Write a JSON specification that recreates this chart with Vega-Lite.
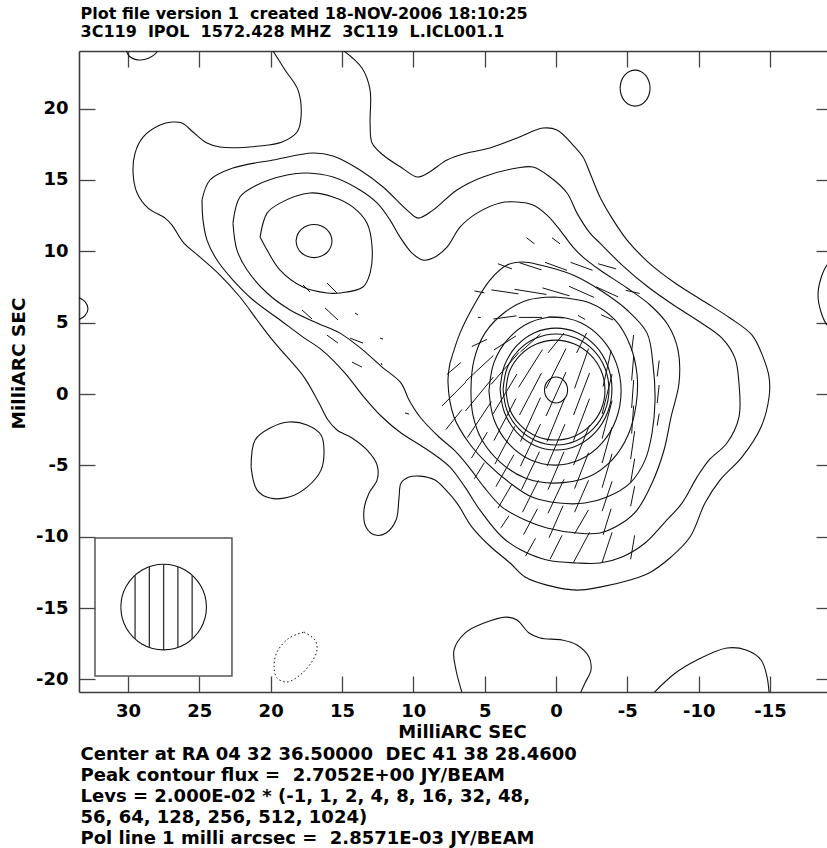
{
"$schema": "https://vega.github.io/schema/vega-lite/v6.json",
"width": 748, "height": 641,
"autosize": {"type": "none"},
"padding": {"left": 79, "top": 51, "right": 0, "bottom": 156},
"background": "white",
"config": {"view": {"stroke": null}, "font": "DejaVu Sans"},
"datasets": {
"contours": [
{"c":"A","i":0,"x":20.0,"y":24.3},{"c":"A","i":1,"x":18.99,"y":22.71},{"c":"A","i":2,"x":18.08,"y":21.30},{"c":"A","i":3,"x":17.87,"y":19.41},{"c":"A","i":4,"x":18.15,"y":18.36},{"c":"A","i":5,"x":19.20,"y":17.66},{"c":"A","i":6,"x":20.74,"y":17.38},{"c":"A","i":7,"x":23.55,"y":17.31},{"c":"A","i":8,"x":24.46,"y":17.59},{"c":"A","i":9,"x":25.44,"y":18.36},{"c":"A","i":10,"x":26.21,"y":18.99},{"c":"A","i":11,"x":26.91,"y":19.06},{"c":"A","i":12,"x":27.75,"y":18.85},{"c":"A","i":13,"x":28.94,"y":18.01},{"c":"A","i":14,"x":29.50,"y":16.89},{"c":"A","i":15,"x":29.64,"y":15.49},{"c":"A","i":16,"x":29.36,"y":14.09},{"c":"A","i":17,"x":28.59,"y":13.03},{"c":"A","i":18,"x":27.40,"y":12.33},{"c":"A","i":19,"x":26.91,"y":11.84},{"c":"A","i":20,"x":26.14,"y":10.65},{"c":"A","i":21,"x":24.95,"y":9.60},{"c":"A","i":22,"x":23.55,"y":8.34},{"c":"A","i":23,"x":22.15,"y":6.80},{"c":"A","i":24,"x":20.95,"y":5.19},{"c":"A","i":25,"x":20.04,"y":3.99},{"c":"A","i":26,"x":19.27,"y":3.08},{"c":"A","i":27,"x":17.66,"y":1.19},{"c":"A","i":28,"x":16.61,"y":-0.63},{"c":"A","i":29,"x":15.98,"y":-1.82},{"c":"A","i":30,"x":15.35,"y":-2.52},{"c":"A","i":31,"x":14.30,"y":-3.08},{"c":"A","i":32,"x":13.25,"y":-3.92},{"c":"A","i":33,"x":12.54,"y":-4.98},{"c":"A","i":34,"x":12.54,"y":-6.03},{"c":"A","i":35,"x":13.10,"y":-6.94},{"c":"A","i":36,"x":13.46,"y":-8.13},{"c":"A","i":37,"x":13.32,"y":-9.32},{"c":"A","i":38,"x":12.68,"y":-9.88},{"c":"A","i":39,"x":11.91,"y":-9.74},{"c":"A","i":40,"x":11.21,"y":-8.83},{"c":"A","i":41,"x":11.00,"y":-7.22},{"c":"A","i":42,"x":10.86,"y":-6.24},{"c":"A","i":43,"x":10.30,"y":-5.82},{"c":"A","i":44,"x":9.53,"y":-5.75},{"c":"A","i":45,"x":8.48,"y":-6.03},{"c":"A","i":46,"x":7.71,"y":-6.73},{"c":"A","i":47,"x":6.94,"y":-7.64},{"c":"A","i":48,"x":5.89,"y":-9.32},{"c":"A","i":49,"x":4.56,"y":-10.72},{"c":"A","i":50,"x":3.22,"y":-11.84},{"c":"A","i":51,"x":2.17,"y":-12.82},{"c":"A","i":52,"x":0.63,"y":-13.39},{"c":"A","i":53,"x":-1.47,"y":-13.74},{"c":"A","i":54,"x":-3.08,"y":-13.53},{"c":"A","i":55,"x":-5.19,"y":-13.03},{"c":"A","i":56,"x":-6.52,"y":-12.54},{"c":"A","i":57,"x":-8.06,"y":-11.42},{"c":"A","i":58,"x":-9.39,"y":-10.02},{"c":"A","i":59,"x":-10.44,"y":-7.64},{"c":"A","i":60,"x":-11.49,"y":-6.03},{"c":"A","i":61,"x":-13.03,"y":-4.42},{"c":"A","i":62,"x":-14.37,"y":-2.31},{"c":"A","i":63,"x":-14.93,"y":-0.21},{"c":"A","i":64,"x":-14.93,"y":1.19},{"c":"A","i":65,"x":-14.51,"y":2.59},{"c":"A","i":66,"x":-13.74,"y":4.13},{"c":"A","i":67,"x":-12.19,"y":5.33},{"c":"A","i":68,"x":-10.44,"y":6.45},{"c":"A","i":69,"x":-8.34,"y":7.78},{"c":"A","i":70,"x":-6.45,"y":9.25},{"c":"A","i":71,"x":-4.98,"y":10.79},{"c":"A","i":72,"x":-3.92,"y":12.33},{"c":"A","i":73,"x":-3.08,"y":13.81},{"c":"A","i":74,"x":-2.38,"y":15.49},{"c":"A","i":75,"x":-1.89,"y":16.61},{"c":"A","i":76,"x":-1.19,"y":17.45},{"c":"A","i":77,"x":-0.07,"y":18.50},{"c":"A","i":78,"x":0.91,"y":18.64},{"c":"A","i":79,"x":2.73,"y":17.94},{"c":"A","i":80,"x":4.63,"y":17.24},{"c":"A","i":81,"x":6.24,"y":16.89},{"c":"A","i":82,"x":7.64,"y":16.40},{"c":"A","i":83,"x":8.97,"y":15.49},{"c":"A","i":84,"x":9.74,"y":15.21},{"c":"A","i":85,"x":10.79,"y":15.84},{"c":"A","i":86,"x":12.12,"y":16.75},{"c":"A","i":87,"x":12.89,"y":17.59},{"c":"A","i":88,"x":13.03,"y":18.99},{"c":"A","i":89,"x":13.03,"y":21.30},{"c":"A","i":90,"x":13.60,"y":22.85},{"c":"A","i":91,"x":15.2,"y":24.3},
{"c":"B","i":0,"x":24.81,"y":13.60},{"c":"B","i":1,"x":24.25,"y":15.00},{"c":"B","i":2,"x":22.64,"y":15.84},{"c":"B","i":3,"x":19.83,"y":16.40},{"c":"B","i":4,"x":17.03,"y":16.89},{"c":"B","i":5,"x":15.63,"y":16.68},{"c":"B","i":6,"x":13.74,"y":15.70},{"c":"B","i":7,"x":12.12,"y":14.51},{"c":"B","i":8,"x":10.44,"y":12.89},{"c":"B","i":9,"x":9.67,"y":12.33},{"c":"B","i":10,"x":8.62,"y":12.89},{"c":"B","i":11,"x":6.94,"y":14.30},{"c":"B","i":12,"x":5.12,"y":15.21},{"c":"B","i":13,"x":2.73,"y":15.84},{"c":"B","i":14,"x":1.61,"y":15.91},{"c":"B","i":15,"x":0.42,"y":15.21},{"c":"B","i":16,"x":-0.77,"y":14.09},{"c":"B","i":17,"x":-1.47,"y":12.68},{"c":"B","i":18,"x":-2.38,"y":11.28},{"c":"B","i":19,"x":-3.08,"y":10.58},{"c":"B","i":20,"x":-4.63,"y":9.04},{"c":"B","i":21,"x":-6.45,"y":7.50},{"c":"B","i":22,"x":-8.34,"y":6.17},{"c":"B","i":23,"x":-10.09,"y":5.05},{"c":"B","i":24,"x":-11.63,"y":3.92},{"c":"B","i":25,"x":-12.54,"y":2.52},{"c":"B","i":26,"x":-12.82,"y":0.77},{"c":"B","i":27,"x":-12.82,"y":-1.61},{"c":"B","i":28,"x":-11.98,"y":-3.43},{"c":"B","i":29,"x":-10.72,"y":-4.63},{"c":"B","i":30,"x":-9.88,"y":-5.82},{"c":"B","i":31,"x":-8.83,"y":-7.64},{"c":"B","i":32,"x":-7.57,"y":-9.04},{"c":"B","i":33,"x":-6.24,"y":-10.44},{"c":"B","i":34,"x":-4.63,"y":-11.42},{"c":"B","i":35,"x":-3.08,"y":-11.84},{"c":"B","i":36,"x":-1.47,"y":-11.84},{"c":"B","i":37,"x":0.63,"y":-11.63},{"c":"B","i":38,"x":2.45,"y":-10.93},{"c":"B","i":39,"x":3.78,"y":-10.02},{"c":"B","i":40,"x":5.33,"y":-8.13},{"c":"B","i":41,"x":6.38,"y":-6.52},{"c":"B","i":42,"x":7.43,"y":-5.12},{"c":"B","i":43,"x":8.48,"y":-4.27},{"c":"B","i":44,"x":9.53,"y":-3.57},{"c":"B","i":45,"x":10.86,"y":-2.73},{"c":"B","i":46,"x":12.19,"y":-1.61},{"c":"B","i":47,"x":13.46,"y":-0.21},{"c":"B","i":48,"x":14.79,"y":1.47},{"c":"B","i":49,"x":16.40,"y":3.08},{"c":"B","i":50,"x":17.73,"y":3.99},{"c":"B","i":51,"x":19.34,"y":5.19},{"c":"B","i":52,"x":21.23,"y":6.59},{"c":"B","i":53,"x":22.64,"y":7.99},{"c":"B","i":54,"x":23.76,"y":9.39},{"c":"B","i":55,"x":24.46,"y":10.79},{"c":"B","i":56,"x":24.74,"y":12.19},{"c":"B","i":57,"x":24.81,"y":13.60},
{"c":"C","i":0,"x":22.64,"y":11.98},{"c":"C","i":1,"x":22.15,"y":13.81},{"c":"C","i":2,"x":20.95,"y":14.65},{"c":"C","i":3,"x":18.85,"y":15.35},{"c":"C","i":4,"x":17.45,"y":15.49},{"c":"C","i":5,"x":15.63,"y":15.21},{"c":"C","i":6,"x":13.74,"y":14.30},{"c":"C","i":7,"x":12.54,"y":13.39},{"c":"C","i":8,"x":11.63,"y":12.19},{"c":"C","i":9,"x":10.93,"y":11.00},{"c":"C","i":10,"x":10.09,"y":9.88},{"c":"C","i":11,"x":9.32,"y":9.39},{"c":"C","i":12,"x":8.62,"y":9.53},{"c":"C","i":13,"x":7.64,"y":10.30},{"c":"C","i":14,"x":6.73,"y":11.70},{"c":"C","i":15,"x":5.54,"y":12.68},{"c":"C","i":16,"x":3.92,"y":13.39},{"c":"C","i":17,"x":2.73,"y":13.46},{"c":"C","i":18,"x":1.61,"y":13.25},{"c":"C","i":19,"x":0.63,"y":12.54},{"c":"C","i":20,"x":-0.28,"y":11.49},{"c":"C","i":21,"x":-1.19,"y":10.30},{"c":"C","i":22,"x":-1.89,"y":9.60},{"c":"C","i":23,"x":-3.08,"y":8.69},{"c":"C","i":24,"x":-4.98,"y":7.43},{"c":"C","i":25,"x":-6.59,"y":6.24},{"c":"C","i":26,"x":-7.85,"y":4.84},{"c":"C","i":27,"x":-8.55,"y":3.08},{"c":"C","i":28,"x":-8.62,"y":0.77},{"c":"C","i":29,"x":-8.06,"y":-1.61},{"c":"C","i":30,"x":-7.57,"y":-3.92},{"c":"C","i":31,"x":-6.73,"y":-6.24},{"c":"C","i":32,"x":-5.68,"y":-8.13},{"c":"C","i":33,"x":-4.63,"y":-9.04},{"c":"C","i":34,"x":-3.08,"y":-9.74},{"c":"C","i":35,"x":-1.47,"y":-9.74},{"c":"C","i":36,"x":0.63,"y":-9.39},{"c":"C","i":37,"x":2.17,"y":-8.83},{"c":"C","i":38,"x":3.78,"y":-7.92},{"c":"C","i":39,"x":5.05,"y":-6.52},{"c":"C","i":40,"x":6.10,"y":-5.12},{"c":"C","i":41,"x":7.15,"y":-3.92},{"c":"C","i":42,"x":8.20,"y":-3.01},{"c":"C","i":43,"x":9.53,"y":-1.61},{"c":"C","i":44,"x":10.30,"y":-0.42},{"c":"C","i":45,"x":10.86,"y":0.77},{"c":"C","i":46,"x":12.19,"y":1.89},{"c":"C","i":47,"x":13.53,"y":3.08},{"c":"C","i":48,"x":15.14,"y":4.27},{"c":"C","i":49,"x":16.75,"y":4.98},{"c":"C","i":50,"x":18.64,"y":5.89},{"c":"C","i":51,"x":20.25,"y":7.08},{"c":"C","i":52,"x":21.65,"y":8.69},{"c":"C","i":53,"x":22.36,"y":10.09},{"c":"C","i":54,"x":22.64,"y":11.98},
{"c":"L8","i":0,"x":7.43,"y":2.17},{"c":"L8","i":1,"x":7.57,"y":0.77},{"c":"L8","i":2,"x":7.15,"y":-1.61},{"c":"L8","i":3,"x":6.10,"y":-3.43},{"c":"L8","i":4,"x":4.84,"y":-4.84},{"c":"L8","i":5,"x":3.22,"y":-6.24},{"c":"L8","i":6,"x":1.68,"y":-7.22},{"c":"L8","i":7,"x":-0.21,"y":-7.64},{"c":"L8","i":8,"x":-2.03,"y":-7.64},{"c":"L8","i":9,"x":-3.57,"y":-7.22},{"c":"L8","i":10,"x":-5.19,"y":-6.24},{"c":"L8","i":11,"x":-6.24,"y":-4.63},{"c":"L8","i":12,"x":-6.73,"y":-2.73},{"c":"L8","i":13,"x":-6.94,"y":-0.42},{"c":"L8","i":14,"x":-6.80,"y":2.03},{"c":"L8","i":15,"x":-6.38,"y":4.27},{"c":"L8","i":16,"x":-4.98,"y":5.89},{"c":"L8","i":17,"x":-3.08,"y":7.29},{"c":"L8","i":18,"x":-1.19,"y":8.34},{"c":"L8","i":19,"x":1.12,"y":9.04},{"c":"L8","i":20,"x":2.38,"y":9.25},{"c":"L8","i":21,"x":3.43,"y":9.04},{"c":"L8","i":22,"x":4.63,"y":7.99},{"c":"L8","i":23,"x":5.82,"y":6.10},{"c":"L8","i":24,"x":6.73,"y":4.27},{"c":"L8","i":25,"x":7.43,"y":2.17},
{"c":"L16","i":0,"x":0.14,"y":6.80},{"c":"L16","i":1,"x":-2.38,"y":6.38},{"c":"L16","i":2,"x":-4.13,"y":5.19},{"c":"L16","i":3,"x":-5.19,"y":3.42},{"c":"L16","i":4,"x":-5.68,"y":1.33},{"c":"L16","i":5,"x":-5.61,"y":-0.77},{"c":"L16","i":6,"x":-5.05,"y":-2.87},{"c":"L16","i":7,"x":-3.92,"y":-4.63},{"c":"L16","i":8,"x":-2.24,"y":-5.82},{"c":"L16","i":9,"x":0.14,"y":-6.24},{"c":"L16","i":10,"x":2.17,"y":-5.89},{"c":"L16","i":11,"x":3.92,"y":-4.77},{"c":"L16","i":12,"x":5.19,"y":-3.22},{"c":"L16","i":13,"x":5.82,"y":-1.47},{"c":"L16","i":14,"x":5.96,"y":0.28},{"c":"L16","i":15,"x":5.75,"y":2.38},{"c":"L16","i":16,"x":4.98,"y":4.27},{"c":"L16","i":17,"x":3.57,"y":5.75},{"c":"L16","i":18,"x":1.96,"y":6.59},{"c":"L16","i":19,"x":0.14,"y":6.80},
{"c":"L32","i":0,"x":4.70,"y":0.21},{"c":"L32","i":1,"x":4.35,"y":2.20},{"c":"L32","i":2,"x":3.34,"y":3.88},{"c":"L32","i":3,"x":1.84,"y":5.01},{"c":"L32","i":4,"x":0.07,"y":5.40},{"c":"L32","i":5,"x":-1.70,"y":5.01},{"c":"L32","i":6,"x":-3.20,"y":3.88},{"c":"L32","i":7,"x":-4.21,"y":2.20},{"c":"L32","i":8,"x":-4.56,"y":0.21},{"c":"L32","i":9,"x":-4.21,"y":-1.78},{"c":"L32","i":10,"x":-3.20,"y":-3.46},{"c":"L32","i":11,"x":-1.70,"y":-4.59},{"c":"L32","i":12,"x":0.07,"y":-4.98},{"c":"L32","i":13,"x":1.84,"y":-4.59},{"c":"L32","i":14,"x":3.34,"y":-3.46},{"c":"L32","i":15,"x":4.35,"y":-1.78},{"c":"L32","i":16,"x":4.70,"y":0.21},
{"c":"L48","i":0,"x":3.92,"y":0.35},{"c":"L48","i":1,"x":3.62,"y":1.98},{"c":"L48","i":2,"x":2.77,"y":3.37},{"c":"L48","i":3,"x":1.50,"y":4.30},{"c":"L48","i":4,"x":0,"y":4.62},{"c":"L48","i":5,"x":-1.50,"y":4.30},{"c":"L48","i":6,"x":-2.77,"y":3.37},{"c":"L48","i":7,"x":-3.62,"y":1.98},{"c":"L48","i":8,"x":-3.92,"y":0.35},{"c":"L48","i":9,"x":-3.62,"y":-1.28},{"c":"L48","i":10,"x":-2.77,"y":-2.67},{"c":"L48","i":11,"x":-1.50,"y":-3.60},{"c":"L48","i":12,"x":0,"y":-3.92},{"c":"L48","i":13,"x":1.50,"y":-3.60},{"c":"L48","i":14,"x":2.77,"y":-2.67},{"c":"L48","i":15,"x":3.62,"y":-1.28},{"c":"L48","i":16,"x":3.92,"y":0.35},
{"c":"L56","i":0,"x":3.71,"y":0.32},{"c":"L56","i":1,"x":3.43,"y":1.81},{"c":"L56","i":2,"x":2.62,"y":3.07},{"c":"L56","i":3,"x":1.42,"y":3.91},{"c":"L56","i":4,"x":0,"y":4.21},{"c":"L56","i":5,"x":-1.42,"y":3.91},{"c":"L56","i":6,"x":-2.62,"y":3.07},{"c":"L56","i":7,"x":-3.43,"y":1.81},{"c":"L56","i":8,"x":-3.71,"y":0.32},{"c":"L56","i":9,"x":-3.43,"y":-1.17},{"c":"L56","i":10,"x":-2.62,"y":-2.43},{"c":"L56","i":11,"x":-1.42,"y":-3.27},{"c":"L56","i":12,"x":0,"y":-3.57},{"c":"L56","i":13,"x":1.42,"y":-3.27},{"c":"L56","i":14,"x":2.62,"y":-2.43},{"c":"L56","i":15,"x":3.43,"y":-1.17},{"c":"L56","i":16,"x":3.71,"y":0.32},
{"c":"L64","i":0,"x":3.51,"y":0.28},{"c":"L64","i":1,"x":3.25,"y":1.62},{"c":"L64","i":2,"x":2.49,"y":2.75},{"c":"L64","i":3,"x":1.37,"y":3.51},{"c":"L64","i":4,"x":0.04,"y":3.78},{"c":"L64","i":5,"x":-1.29,"y":3.51},{"c":"L64","i":6,"x":-2.41,"y":2.75},{"c":"L64","i":7,"x":-3.17,"y":1.62},{"c":"L64","i":8,"x":-3.43,"y":0.28},{"c":"L64","i":9,"x":-3.17,"y":-1.06},{"c":"L64","i":10,"x":-2.41,"y":-2.19},{"c":"L64","i":11,"x":-1.29,"y":-2.95},{"c":"L64","i":12,"x":0.04,"y":-3.22},{"c":"L64","i":13,"x":1.37,"y":-2.95},{"c":"L64","i":14,"x":2.49,"y":-2.19},{"c":"L64","i":15,"x":3.25,"y":-1.06},{"c":"L64","i":16,"x":3.51,"y":0.28},
{"c":"L128","i":0,"x":0.81,"y":0.28},{"c":"L128","i":1,"x":0.75,"y":0.63},{"c":"L128","i":2,"x":0.57,"y":0.92},{"c":"L128","i":3,"x":0.31,"y":1.12},{"c":"L128","i":4,"x":0,"y":1.19},{"c":"L128","i":5,"x":-0.31,"y":1.12},{"c":"L128","i":6,"x":-0.57,"y":0.92},{"c":"L128","i":7,"x":-0.75,"y":0.63},{"c":"L128","i":8,"x":-0.81,"y":0.28},{"c":"L128","i":9,"x":-0.75,"y":-0.07},{"c":"L128","i":10,"x":-0.57,"y":-0.36},{"c":"L128","i":11,"x":-0.31,"y":-0.56},{"c":"L128","i":12,"x":0,"y":-0.63},{"c":"L128","i":13,"x":0.31,"y":-0.56},{"c":"L128","i":14,"x":0.57,"y":-0.36},{"c":"L128","i":15,"x":0.75,"y":-0.07},{"c":"L128","i":16,"x":0.81,"y":0.28},
{"c":"D","i":0,"x":20.74,"y":11.00},{"c":"D","i":1,"x":20.25,"y":12.68},{"c":"D","i":2,"x":19.34,"y":13.38},{"c":"D","i":3,"x":17.24,"y":14.09},{"c":"D","i":4,"x":15.63,"y":13.81},{"c":"D","i":5,"x":14.23,"y":13.10},{"c":"D","i":6,"x":13.25,"y":11.98},{"c":"D","i":7,"x":12.89,"y":10.30},{"c":"D","i":8,"x":13.03,"y":8.48},{"c":"D","i":9,"x":13.53,"y":7.50},{"c":"D","i":10,"x":15.14,"y":7.08},{"c":"D","i":11,"x":16.05,"y":7.08},{"c":"D","i":12,"x":17.73,"y":7.50},{"c":"D","i":13,"x":19.34,"y":8.69},{"c":"D","i":14,"x":20.25,"y":10.09},{"c":"D","i":15,"x":20.74,"y":11.00},
{"c":"E","i":0,"x":18.22,"y":10.72},{"c":"E","i":1,"x":18.12,"y":11.16},{"c":"E","i":2,"x":17.85,"y":11.54},{"c":"E","i":3,"x":17.44,"y":11.79},{"c":"E","i":4,"x":16.96,"y":11.88},{"c":"E","i":5,"x":16.48,"y":11.79},{"c":"E","i":6,"x":16.07,"y":11.54},{"c":"E","i":7,"x":15.80,"y":11.16},{"c":"E","i":8,"x":15.70,"y":10.72},{"c":"E","i":9,"x":15.80,"y":10.28},{"c":"E","i":10,"x":16.07,"y":9.90},{"c":"E","i":11,"x":16.48,"y":9.65},{"c":"E","i":12,"x":16.96,"y":9.56},{"c":"E","i":13,"x":17.44,"y":9.65},{"c":"E","i":14,"x":17.85,"y":9.90},{"c":"E","i":15,"x":18.12,"y":10.28},{"c":"E","i":16,"x":18.22,"y":10.72},
{"c":"TR","i":0,"x":-4.49,"y":21.44},{"c":"TR","i":1,"x":-4.57,"y":21.92},{"c":"TR","i":2,"x":-4.80,"y":22.33},{"c":"TR","i":3,"x":-5.14,"y":22.60},{"c":"TR","i":4,"x":-5.54,"y":22.70},{"c":"TR","i":5,"x":-5.94,"y":22.60},{"c":"TR","i":6,"x":-6.28,"y":22.33},{"c":"TR","i":7,"x":-6.51,"y":21.92},{"c":"TR","i":8,"x":-6.59,"y":21.44},{"c":"TR","i":9,"x":-6.51,"y":20.96},{"c":"TR","i":10,"x":-6.28,"y":20.55},{"c":"TR","i":11,"x":-5.94,"y":20.28},{"c":"TR","i":12,"x":-5.54,"y":20.18},{"c":"TR","i":13,"x":-5.14,"y":20.28},{"c":"TR","i":14,"x":-4.80,"y":20.55},{"c":"TR","i":15,"x":-4.57,"y":20.96},{"c":"TR","i":16,"x":-4.49,"y":21.44},
{"c":"R","i":0,"x":-19.3,"y":9.3},{"c":"R","i":1,"x":-18.99,"y":9.04},{"c":"R","i":2,"x":-18.57,"y":8.13},{"c":"R","i":3,"x":-18.36,"y":6.94},{"c":"R","i":4,"x":-18.57,"y":5.75},{"c":"R","i":5,"x":-18.99,"y":4.84},{"c":"R","i":6,"x":-19.3,"y":4.6},
{"c":"Lf","i":0,"x":33.7,"y":6.9},{"c":"Lf","i":1,"x":33.43,"y":6.75},{"c":"Lf","i":2,"x":33.01,"y":6.47},{"c":"Lf","i":3,"x":32.80,"y":5.98},{"c":"Lf","i":4,"x":33.01,"y":5.49},{"c":"Lf","i":5,"x":33.43,"y":5.21},{"c":"Lf","i":6,"x":33.7,"y":5.1},
{"c":"T","i":0,"x":30.2,"y":24.4},{"c":"T","i":1,"x":29.92,"y":23.69},{"c":"T","i":2,"x":29.22,"y":23.41},{"c":"T","i":3,"x":28.52,"y":23.55},{"c":"T","i":4,"x":28.03,"y":23.90},{"c":"T","i":5,"x":27.85,"y":24.4},
{"c":"BL","i":0,"x":21.37,"y":-5.12},{"c":"BL","i":1,"x":21.09,"y":-3.22},{"c":"BL","i":2,"x":20.04,"y":-2.38},{"c":"BL","i":3,"x":18.71,"y":-1.96},{"c":"BL","i":4,"x":17.45,"y":-2.17},{"c":"BL","i":5,"x":16.47,"y":-2.87},{"c":"BL","i":6,"x":16.26,"y":-3.92},{"c":"BL","i":7,"x":16.47,"y":-5.33},{"c":"BL","i":8,"x":17.45,"y":-6.52},{"c":"BL","i":9,"x":18.71,"y":-7.22},{"c":"BL","i":10,"x":20.04,"y":-7.29},{"c":"BL","i":11,"x":20.95,"y":-6.73},{"c":"BL","i":12,"x":21.37,"y":-5.12},
{"c":"BC","i":0,"x":6.5,"y":-21.2},{"c":"BC","i":1,"x":7.01,"y":-19.34},{"c":"BC","i":2,"x":7.15,"y":-17.94},{"c":"BC","i":3,"x":6.38,"y":-16.75},{"c":"BC","i":4,"x":5.05,"y":-16.05},{"c":"BC","i":5,"x":3.50,"y":-15.63},{"c":"BC","i":6,"x":2.73,"y":-15.84},{"c":"BC","i":7,"x":1.89,"y":-16.75},{"c":"BC","i":8,"x":1.12,"y":-17.10},{"c":"BC","i":9,"x":-0.42,"y":-17.24},{"c":"BC","i":10,"x":-1.47,"y":-17.59},{"c":"BC","i":11,"x":-2.31,"y":-18.43},{"c":"BC","i":12,"x":-2.45,"y":-19.34},{"c":"BC","i":13,"x":-2.03,"y":-20.25},{"c":"BC","i":14,"x":-1.6,"y":-21.2},
{"c":"BR","i":0,"x":-6.6,"y":-21.2},{"c":"BR","i":1,"x":-8.3,"y":-19.6},{"c":"BR","i":2,"x":-9.88,"y":-18.64},{"c":"BR","i":3,"x":-11.98,"y":-17.80},{"c":"BR","i":4,"x":-13.32,"y":-17.94},{"c":"BR","i":5,"x":-14.37,"y":-18.64},{"c":"BR","i":6,"x":-14.79,"y":-19.83},{"c":"BR","i":7,"x":-14.95,"y":-21.2},
{"c":"beam","i":0,"x":30.5,"y":-14.93},{"c":"beam","i":1,"x":30.40,"y":-14.15},{"c":"beam","i":2,"x":30.10,"y":-13.43},{"c":"beam","i":3,"x":29.62,"y":-12.81},{"c":"beam","i":4,"x":29.0,"y":-12.33},{"c":"beam","i":5,"x":28.28,"y":-12.03},{"c":"beam","i":6,"x":27.5,"y":-11.93},{"c":"beam","i":7,"x":26.72,"y":-12.03},{"c":"beam","i":8,"x":26.0,"y":-12.33},{"c":"beam","i":9,"x":25.38,"y":-12.81},{"c":"beam","i":10,"x":24.90,"y":-13.43},{"c":"beam","i":11,"x":24.60,"y":-14.15},{"c":"beam","i":12,"x":24.5,"y":-14.93},{"c":"beam","i":13,"x":24.60,"y":-15.71},{"c":"beam","i":14,"x":24.90,"y":-16.43},{"c":"beam","i":15,"x":25.38,"y":-17.05},{"c":"beam","i":16,"x":26.0,"y":-17.53},{"c":"beam","i":17,"x":26.72,"y":-17.83},{"c":"beam","i":18,"x":27.5,"y":-17.93},{"c":"beam","i":19,"x":28.28,"y":-17.83},{"c":"beam","i":20,"x":29.0,"y":-17.53},{"c":"beam","i":21,"x":29.62,"y":-17.05},{"c":"beam","i":22,"x":30.10,"y":-16.43},{"c":"beam","i":23,"x":30.40,"y":-15.71},{"c":"beam","i":24,"x":30.5,"y":-14.93}
],
"neg": [
{"c":"N","i":0,"x":17.66,"y":-16.68},{"c":"N","i":1,"x":16.89,"y":-17.24},{"c":"N","i":2,"x":16.75,"y":-17.94},{"c":"N","i":3,"x":17.17,"y":-18.85},{"c":"N","i":4,"x":17.94,"y":-19.69},{"c":"N","i":5,"x":18.85,"y":-20.18},{"c":"N","i":6,"x":19.55,"y":-19.90},{"c":"N","i":7,"x":19.76,"y":-19.13},{"c":"N","i":8,"x":19.55,"y":-18.08},{"c":"N","i":9,"x":18.71,"y":-17.10},{"c":"N","i":10,"x":17.66,"y":-16.68}
],
"vectors": [
{"x":2.07,"y":10.95,"x2":1.51,"y2":10.53},{"x":0.28,"y":10.95,"x2":-0.28,"y2":10.53},
{"x":4.07,"y":9.13,"x2":3.09,"y2":8.77},{"x":2.56,"y":9.20,"x2":1.02,"y2":8.70},{"x":0.77,"y":9.23,"x2":-0.77,"y2":8.67},{"x":-1.02,"y":9.23,"x2":-2.56,"y2":8.67},{"x":-2.95,"y":9.13,"x2":-4.21,"y2":8.77},
{"x":5.72,"y":7.23,"x2":5.02,"y2":7.09},{"x":4.53,"y":7.30,"x2":2.63,"y2":7.02},{"x":2.91,"y":7.34,"x2":0.67,"y2":6.98},{"x":0.95,"y":7.44,"x2":-0.95,"y2":6.88},{"x":-0.91,"y":7.55,"x2":-2.67,"y2":6.77},{"x":-2.81,"y":7.51,"x2":-4.35,"y2":6.81},{"x":-4.88,"y":7.27,"x2":-5.86,"y2":7.05},
{"x":5.47,"y":5.37,"x2":5.27,"y2":5.37},{"x":2.77,"y":5.48,"x2":4.39,"y2":5.26},{"x":0.98,"y":5.37,"x2":2.60,"y2":5.37},{"x":0.53,"y":5.41,"x2":-0.53,"y2":5.33},{"x":-1.54,"y":5.51,"x2":-2.04,"y2":5.23},{"x":-3.16,"y":5.55,"x2":-4.00,"y2":5.19},
{"x":4.84,"y":3.83,"x2":5.90,"y2":3.33},{"x":2.81,"y":4.07,"x2":4.35,"y2":3.09},{"x":1.09,"y":4.21,"x2":2.49,"y2":2.95},{"x":-0.56,"y":4.28,"x2":0.56,"y2":2.88},{"x":-2.14,"y":4.28,"x2":-1.44,"y2":2.88},{"x":-5.44,"y":4.14,"x2":-5.30,"y2":3.02},
{"x":6.67,"y":2.21,"x2":7.65,"y2":1.37},{"x":4.39,"y":2.70,"x2":6.35,"y2":0.88},{"x":2.60,"y":2.91,"x2":4.56,"y2":0.67},{"x":0.95,"y":3.12,"x2":2.63,"y2":0.46},{"x":-0.70,"y":3.19,"x2":0.70,"y2":0.39},{"x":-2.28,"y":3.19,"x2":-1.30,"y2":0.39},{"x":-3.86,"y":3.05,"x2":-3.30,"y2":0.53},{"x":-5.44,"y":2.63,"x2":-5.30,"y2":0.95},{"x":-7.23,"y":2.35,"x2":-7.09,"y2":1.23},
{"x":6.32,"y":0.84,"x2":8.00,"y2":-0.84},{"x":4.39,"y":1.19,"x2":6.35,"y2":-1.19},{"x":2.74,"y":1.40,"x2":4.42,"y2":-1.40},{"x":1.02,"y":1.47,"x2":2.56,"y2":-1.47},{"x":-0.70,"y":1.54,"x2":0.70,"y2":-1.54},{"x":-2.35,"y":1.47,"x2":-1.23,"y2":-1.47},{"x":-3.93,"y":1.40,"x2":-3.23,"y2":-1.40},{"x":-5.44,"y":0.98,"x2":-5.30,"y2":-0.98},{"x":-7.23,"y":0.63,"x2":-7.09,"y2":-0.63},
{"x":6.60,"y":-1.09,"x2":7.72,"y2":-2.49},{"x":4.53,"y":-0.53,"x2":6.21,"y2":-3.05},{"x":2.81,"y":-0.32,"x2":4.35,"y2":-3.26},{"x":1.09,"y":-0.25,"x2":2.49,"y2":-3.33},{"x":-0.63,"y":-0.25,"x2":0.63,"y2":-3.33},{"x":-2.35,"y":-0.32,"x2":-1.23,"y2":-3.26},{"x":-3.93,"y":-0.46,"x2":-3.23,"y2":-3.12},{"x":-5.44,"y":-0.81,"x2":-5.30,"y2":-2.77},{"x":-7.23,"y":-1.37,"x2":-7.09,"y2":-2.21},
{"x":4.81,"y":-2.67,"x2":5.93,"y2":-4.49},{"x":2.88,"y":-2.25,"x2":4.28,"y2":-4.91},{"x":1.09,"y":-2.11,"x2":2.49,"y2":-5.05},{"x":-0.63,"y":-2.11,"x2":0.63,"y2":-5.05},{"x":-2.35,"y":-2.18,"x2":-1.23,"y2":-4.98},{"x":-3.93,"y":-2.32,"x2":-3.23,"y2":-4.84},{"x":-5.51,"y":-2.60,"x2":-5.23,"y2":-4.56},
{"x":5.02,"y":-4.81,"x2":5.72,"y2":-5.93},{"x":2.95,"y":-4.25,"x2":4.21,"y2":-6.49},{"x":1.16,"y":-4.04,"x2":2.42,"y2":-6.70},{"x":-0.56,"y":-4.04,"x2":0.56,"y2":-6.70},{"x":-2.28,"y":-4.11,"x2":-1.30,"y2":-6.63},{"x":-3.93,"y":-4.18,"x2":-3.23,"y2":-6.56},{"x":-5.51,"y":-4.53,"x2":-5.23,"y2":-6.21},
{"x":3.09,"y":-6.32,"x2":4.07,"y2":-8.00},{"x":1.23,"y":-6.04,"x2":2.35,"y2":-8.28},{"x":-0.56,"y":-5.97,"x2":0.56,"y2":-8.35},{"x":-2.28,"y":-6.04,"x2":-1.30,"y2":-8.28},{"x":-3.93,"y":-6.11,"x2":-3.23,"y2":-8.21},{"x":-5.51,"y":-6.46,"x2":-5.23,"y2":-7.86},
{"x":3.30,"y":-8.53,"x2":3.86,"y2":-9.37},{"x":1.30,"y":-8.04,"x2":2.28,"y2":-9.86},{"x":-0.49,"y":-7.83,"x2":0.49,"y2":-10.07},{"x":-2.28,"y":-8.11,"x2":-1.30,"y2":-9.79},{"x":-3.86,"y":-8.04,"x2":-3.30,"y2":-9.86},
{"x":1.44,"y":-10.11,"x2":2.14,"y2":-11.37},{"x":-0.42,"y":-9.90,"x2":0.42,"y2":-11.58},{"x":-2.35,"y":-9.69,"x2":-1.23,"y2":-11.79},{"x":-3.93,"y":-9.69,"x2":-3.23,"y2":-11.79},{"x":-5.51,"y":-9.90,"x2":-5.23,"y2":-11.58},
{"x":17.73,"y":7.64,"x2":17.24,"y2":7.15},{"x":16.05,"y":7.78,"x2":15.35,"y2":7.08},{"x":17.80,"y":5.89,"x2":17.10,"y2":5.26},{"x":16.19,"y":6.03,"x2":15.28,"y2":5.19},{"x":14.09,"y":5.68,"x2":13.88,"y2":5.54},{"x":16.05,"y":4.13,"x2":15.28,"y2":3.57},{"x":14.44,"y":3.92,"x2":13.53,"y2":3.57},{"x":12.33,"y":3.92,"x2":12.12,"y2":3.85},{"x":14.30,"y":2.24,"x2":13.60,"y2":1.89},{"x":12.26,"y":2.17,"x2":12.19,"y2":2.03},{"x":10.58,"y":-1.33,"x2":10.30,"y2":-1.40}
],
"box": [{"x":32.31,"x2":22.71,"y":-10.09,"y2":-19.76}],
"hatch": [
{"x":29.5,"y":-12.69,"y2":-17.17},{"x":28.5,"y":-12.10,"y2":-17.76},{"x":27.5,"y":-11.93,"y2":-17.93},{"x":26.5,"y":-12.10,"y2":-17.76},{"x":25.5,"y":-12.69,"y2":-17.17}
]
},
"layer": [
{
"data": {"name": "contours"},
"mark": {"type": "line", "interpolate": "catmull-rom", "stroke": "#111", "strokeWidth": 1.1, "clip": true},
"encoding": {
"x": {"field": "x", "type": "quantitative",
 "scale": {"domain": [-18.99, 33.43], "reverse": true, "nice": false, "zero": false},
 "axis": {"orient": "bottom", "values": [30,25,20,15,10,5,0,-5,-10,-15], "labelExpr": "'' + datum.value", "tickSize": -16, "tickColor": "#444", "tickWidth": 1.3,
  "domain": true, "domainColor": "#3c3c3c", "domainWidth": 1.6, "grid": false,
  "labelFont": "DejaVu Sans", "labelFontWeight": "bold", "labelFontSize": 18, "labelColor": "black",
  "labelBaseline": "alphabetic", "labelPadding": 40, "labelFlush": false, "labelOverlap": false,
  "title": "MilliARC SEC", "titleFont": "DejaVu Sans", "titleFontWeight": "bold", "titleFontSize": 18, "titleColor": "black",
  "titleX": 383, "titleY": 45.5, "titleAlign": "center", "titleBaseline": "alphabetic"}},
"y": {"field": "y", "type": "quantitative",
 "scale": {"domain": [-20.88, 24.04], "nice": false, "zero": false},
 "axis": {"orient": "left", "values": [20,15,10,5,0,-5,-10,-15,-20], "labelExpr": "'' + datum.value", "tickSize": -16, "tickColor": "#444", "tickWidth": 1.3,
  "domain": true, "domainColor": "#3c3c3c", "domainWidth": 1.6, "grid": false,
  "labelFont": "DejaVu Sans", "labelFontWeight": "bold", "labelFontSize": 18, "labelColor": "black",
  "labelBaseline": "middle", "labelAlign": "right", "labelPadding": 27, "labelFlush": false, "labelOverlap": false,
  "title": "MilliARC SEC", "titleFont": "DejaVu Sans", "titleFontWeight": "bold", "titleFontSize": 18.5, "titleColor": "black",
  "titleAngle": -90, "titleX": -61, "titleY": 312, "titleAlign": "center", "titleBaseline": "middle"}},
"detail": {"field": "c", "type": "nominal"},
"order": {"field": "i", "type": "quantitative"}
}
},
{
"data": {"name": "vectors"},
"mark": {"type": "rule", "stroke": "#111", "strokeWidth": 1},
"encoding": {
"x": {"field": "x", "type": "quantitative",
 "scale": {"domain": [-18.99, 33.43], "reverse": true, "nice": false, "zero": false},
 "axis": {"orient": "top", "values": [30,25,20,15,10,5,0,-5,-10,-15], "tickSize": -16, "tickColor": "#444", "tickWidth": 1.3,
  "domain": true, "domainColor": "#3c3c3c", "domainWidth": 1.6, "grid": false, "labels": false,
  "title": ["Plot file version 1\u00a0 created 18-NOV-2006 18:10:25", "3C119\u00a0 IPOL\u00a0 1572.428 MHZ\u00a0 3C119\u00a0 L.ICL001.1"],
  "titleFont": "DejaVu Sans", "titleFontWeight": "bold", "titleFontSize": 16, "titleColor": "black",
  "titleAlign": "left", "titleBaseline": "alphabetic", "titleX": 1, "titleY": -33, "titleLineHeight": 18.7}},
"y": {"field": "y", "type": "quantitative",
 "scale": {"domain": [-20.88, 24.04], "nice": false, "zero": false},
 "axis": {"orient": "right", "values": [20,15,10,5,0,-5,-10,-15,-20], "tickSize": -11, "tickColor": "#444", "tickWidth": 1.3,
  "domain": false, "grid": false, "labels": false, "title": null}},
"x2": {"field": "x2"},
"y2": {"field": "y2"}
}
},
{
"data": {"name": "neg"},
"mark": {"type": "line", "interpolate": "catmull-rom", "stroke": "#111", "strokeWidth": 1, "strokeDash": [1.5, 2.5]},
"encoding": {
"x": {"field": "x", "type": "quantitative",
 "scale": {"domain": [-18.99, 33.43], "reverse": true, "nice": false, "zero": false},
 "axis": {"orient": "bottom", "labels": false, "ticks": false, "domain": false, "grid": false,
  "title": ["Center at RA 04 32 36.50000\u00a0 DEC 41 38 28.4600", "Peak contour flux =\u00a0 2.7052E+00 JY/BEAM", "Levs = 2.000E-02 * (-1, 1, 2, 4, 8, 16, 32, 48,", "56, 64, 128, 256, 512, 1024)", "Pol line 1 milli arcsec =\u00a0 2.8571E-03 JY/BEAM"],
  "titleFont": "DejaVu Sans", "titleFontWeight": "bold", "titleFontSize": 18, "titleColor": "black",
  "titleAlign": "left", "titleBaseline": "alphabetic", "titleX": 1, "titleY": 67, "titleLineHeight": 21}},
"y": {"field": "y", "type": "quantitative",
 "scale": {"domain": [-20.88, 24.04], "nice": false, "zero": false}, "axis": null},
"order": {"field": "i", "type": "quantitative"}
}
},
{
"data": {"name": "box"},
"mark": {"type": "rect", "fillOpacity": 0, "stroke": "#555", "strokeWidth": 1.5},
"encoding": {
"x": {"field": "x", "type": "quantitative", "scale": {"domain": [-18.99, 33.43], "reverse": true, "nice": false, "zero": false}, "axis": null},
"x2": {"field": "x2"},
"y": {"field": "y", "type": "quantitative", "scale": {"domain": [-20.88, 24.04], "nice": false, "zero": false}, "axis": null},
"y2": {"field": "y2"}
}
},
{
"data": {"name": "hatch"},
"mark": {"type": "rule", "stroke": "#333", "strokeWidth": 1.3},
"encoding": {
"x": {"field": "x", "type": "quantitative", "scale": {"domain": [-18.99, 33.43], "reverse": true, "nice": false, "zero": false}, "axis": null},
"y": {"field": "y", "type": "quantitative", "scale": {"domain": [-20.88, 24.04], "nice": false, "zero": false}, "axis": null},
"y2": {"field": "y2"}
}
}
],
"resolve": {"axis": {"x": "independent", "y": "independent"}}
}
